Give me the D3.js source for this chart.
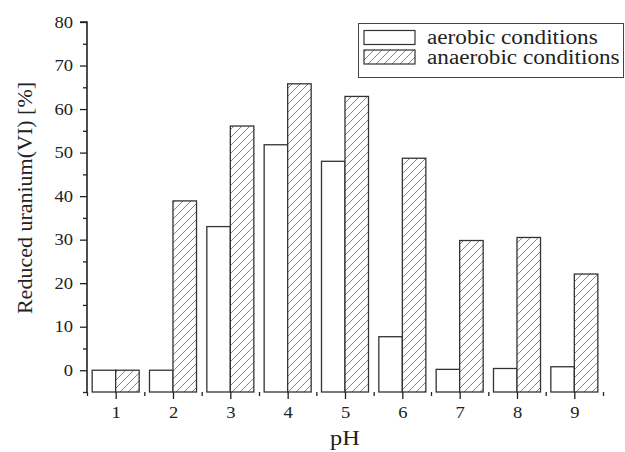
<!DOCTYPE html>
<html>
<head>
<meta charset="utf-8">
<script src="https://cdn.jsdelivr.net/npm/d3@7"></script>
<style>
  html, body { margin: 0; padding: 0; background: #fff; }
  svg { display: block; }
</style>
</head>
<body>
<svg id="chart" width="625" height="452"></svg>
<script>
// pH values on the x axis
const phLevels = [1, 2, 3, 4, 5, 6, 7, 8, 9];
// Reduced uranium(VI) in percent
const aerobic   = [0, 0, 33.0, 51.8, 48.0, 7.7, 0.2, 0.4, 0.8];
const anaerobic = [0, 38.9, 56.1, 65.8, 62.9, 48.7, 29.8, 30.5, 22.1];
const seriesNames = ["aerobic conditions", "anaerobic conditions"];
const yTicks = [0, 10, 20, 30, 40, 50, 60, 70, 80];

(function () {
const SERIF = "'Liberation Serif', 'Times New Roman', 'DejaVu Serif', serif";
const WIDEN = 1.16; // horizontal text stretch
const svg = d3.select("#chart");
const mLeft = 87, mRight = 603, mTop = 22, mBottom = 392;

// widen horizontal text glyphs without moving their anchor
function widen(sel) {
  sel.each(function () {
    const w = this.getComputedTextLength();
    d3.select(this).attr("textLength", w * WIDEN).attr("lengthAdjust", "spacingAndGlyphs");
  });
}

const x = d3.scaleLinear().domain([0.5, 9.5]).range([mLeft, mRight]);
const y = d3.scaleLinear().domain([-5, 80]).range([mBottom, mTop]);
const barW = x(1.41) - x(1);

// Diagonal hatch for the anaerobic series
const defs = svg.append("defs");
const pat = defs.append("pattern")
  .attr("id", "hatch")
  .attr("patternUnits", "userSpaceOnUse")
  .attr("width", 8).attr("height", 8);
pat.append("rect").attr("width", 8).attr("height", 8).attr("fill", "#fff");
pat.append("path")
  .attr("d", "M-2,2 L2,-2 M0,8 L8,0 M6,10 L10,6")
  .attr("stroke", "#666").attr("stroke-width", 0.8);

// Bars rise from the bottom of the axis range
const base = y(-5);
const g = svg.append("g");
g.selectAll("rect.aer").data(phLevels).join("rect")
  .attr("class", "aer")
  .attr("x", (d) => x(d) - barW)
  .attr("y", (d, i) => y(aerobic[i]))
  .attr("width", barW)
  .attr("height", (d, i) => base - y(aerobic[i]))
  .attr("fill", "#fff").attr("stroke", "#333").attr("stroke-width", 1.3);
g.selectAll("rect.ana").data(phLevels).join("rect")
  .attr("class", "ana")
  .attr("x", (d) => x(d))
  .attr("y", (d, i) => y(anaerobic[i]))
  .attr("width", barW)
  .attr("height", (d, i) => base - y(anaerobic[i]))
  .attr("fill", "url(#hatch)").attr("stroke", "#333").attr("stroke-width", 1.3);

// Y axis: labelled major ticks plus minor ticks at the halves
const yAxis = svg.append("g").attr("transform", `translate(${mLeft},0)`)
  .call(d3.axisLeft(y).tickValues(yTicks).tickSize(7).tickPadding(7).tickFormat(d3.format("d")));
svg.append("g").attr("transform", `translate(${mLeft},0)`)
  .call(d3.axisLeft(y).tickValues(d3.range(-5, 80, 10)).tickSize(4).tickFormat(""))
  .call((s) => s.select(".domain").remove());

// X axis
const xAxis = svg.append("g").attr("transform", `translate(0,${mBottom})`)
  .call(d3.axisBottom(x).tickValues(phLevels).tickSize(7).tickPadding(8).tickFormat(d3.format("d")));
svg.append("g").attr("transform", `translate(0,${mBottom})`)
  .call(d3.axisBottom(x).tickValues(d3.range(0.5, 10, 1)).tickSize(4).tickFormat(""))
  .call((s) => s.select(".domain").remove());

svg.selectAll(".domain").attr("stroke", "#222").attr("stroke-width", 1.6);
svg.selectAll(".tick line").attr("stroke", "#222").attr("stroke-width", 1.3);
svg.selectAll(".tick text")
  .attr("font-family", SERIF).attr("font-size", 16)
  .style("font-family", SERIF).style("font-size", "16px").attr("fill", "#222")
  .call(widen);
// y axis extends down to the x axis
yAxis.select(".domain").attr("d", `M-7,${mTop}H0V${mBottom}`);
xAxis.select(".domain").attr("d", `M${mLeft},${mBottom}H${mRight}`);

// Axis titles
svg.append("text")
  .attr("transform", `translate(32,198) rotate(-90)`)
  .attr("text-anchor", "middle")
  .style("font-family", SERIF).style("font-size", "22px").attr("fill", "#222")
  .text("Reduced uranium(VI) [%]");
svg.append("text")
  .attr("x", 345).attr("y", 445)
  .attr("text-anchor", "middle")
  .style("font-family", SERIF).style("font-size", "21px").attr("fill", "#222")
  .text("pH")
  .call(widen);

// Legend
const lg = svg.append("g");
lg.append("rect").attr("x", 358.5).attr("y", 23.5).attr("width", 265).attr("height", 54)
  .attr("fill", "#fff").attr("stroke", "#444").attr("stroke-width", 1);
const fills = ["#fff", "url(#hatch)"];
seriesNames.forEach((name, i) => {
  lg.append("rect").attr("x", 364).attr("y", 30.5 + i * 19.5).attr("width", 51).attr("height", 14)
    .attr("fill", fills[i]).attr("stroke", "#333").attr("stroke-width", 1.2);
  lg.append("text").attr("x", 427).attr("y", 44 + i * 20)
    .style("font-family", SERIF).style("font-size", "20px").attr("fill", "#222")
    .text(name)
    .call(widen);
});
})();
</script>
</body>
</html>
